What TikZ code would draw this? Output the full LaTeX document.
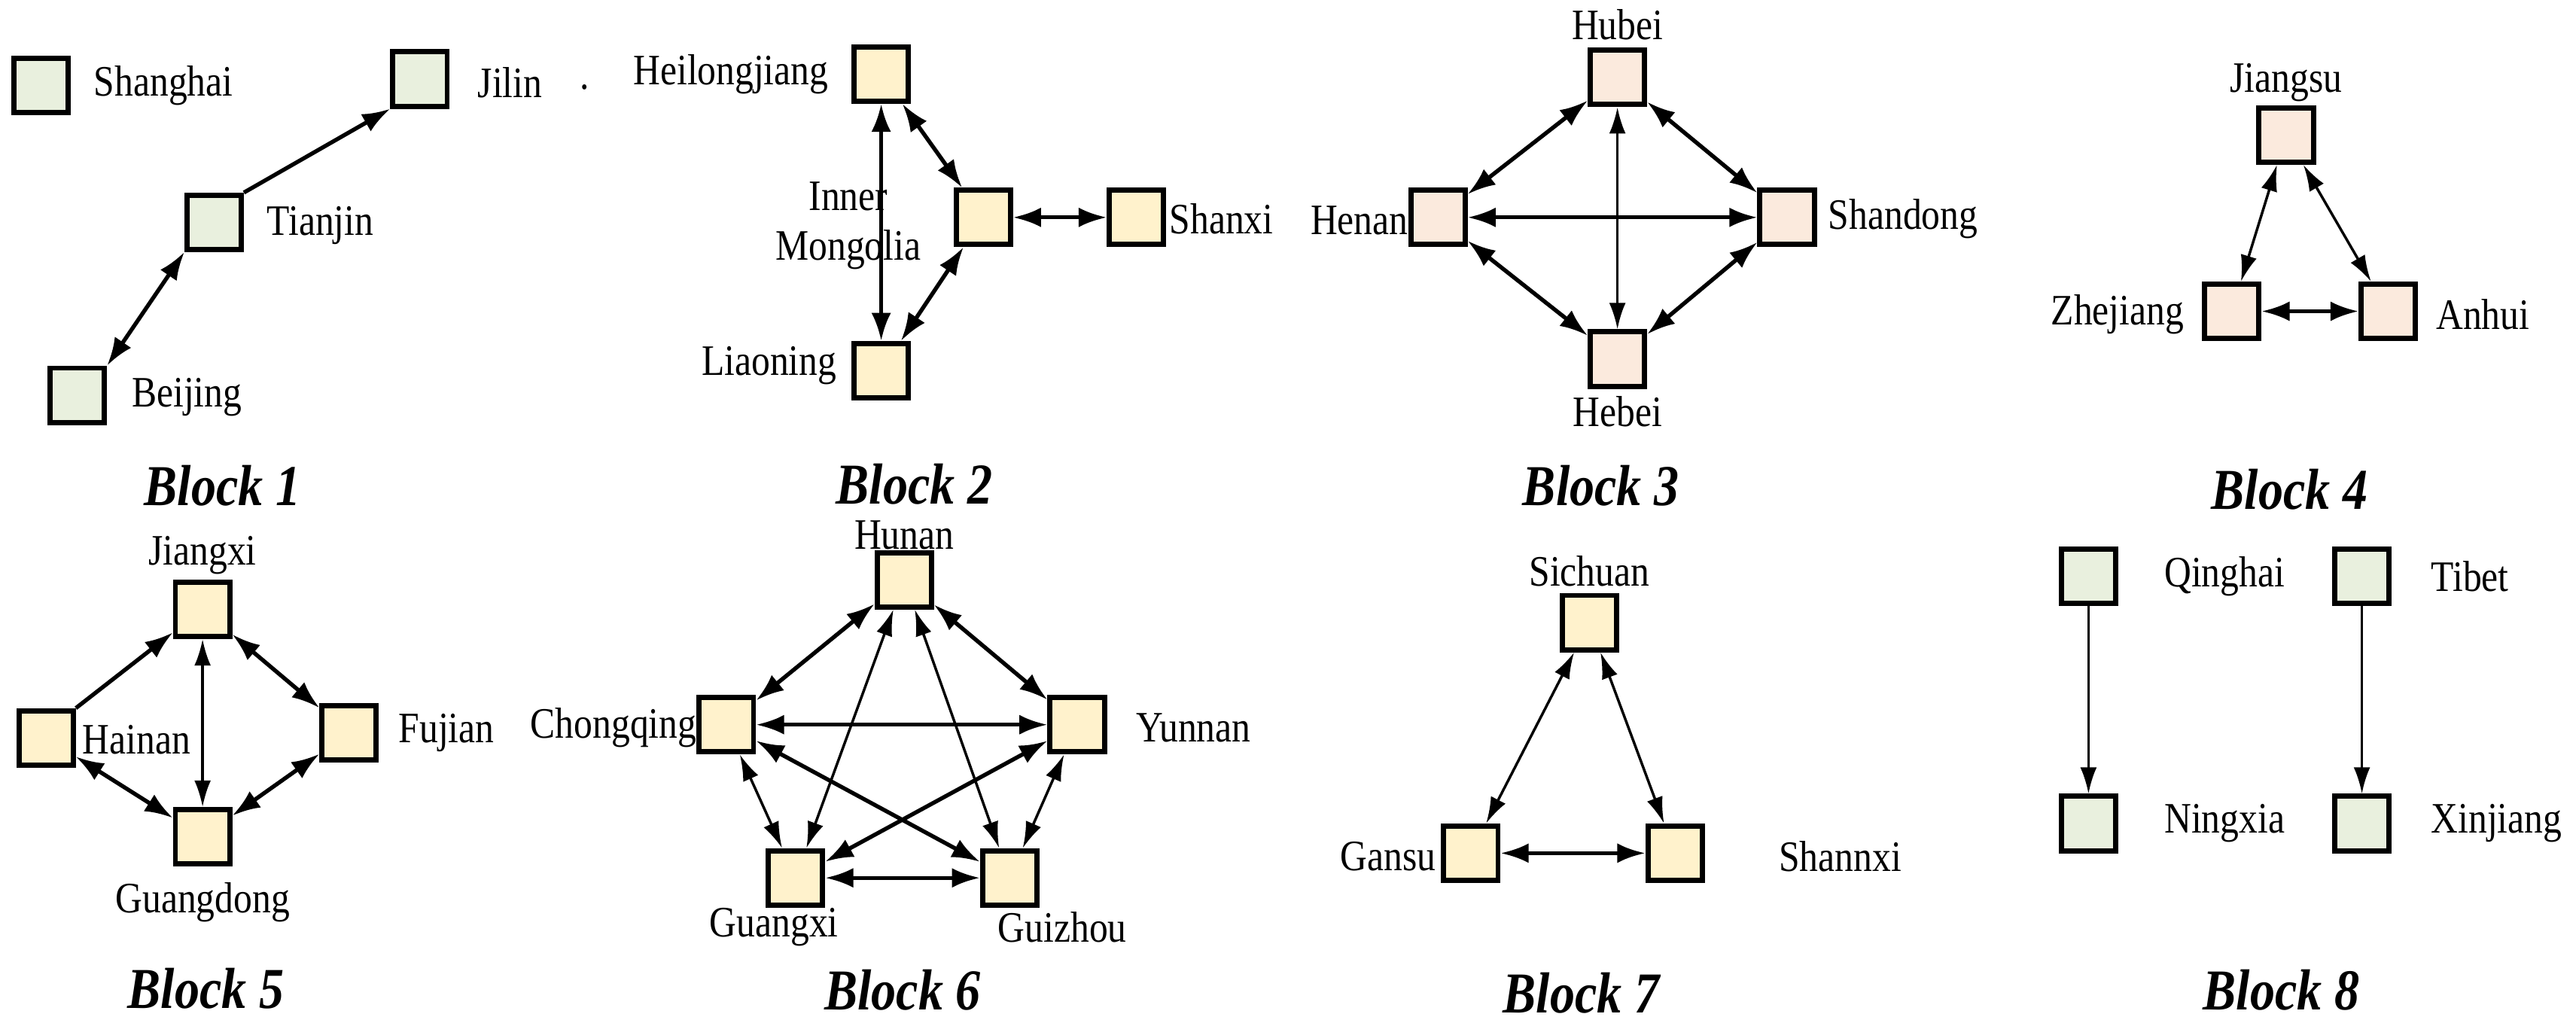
\documentclass[tikz,border=0pt]{standalone}
\usepackage{fontspec}
\setmainfont{Liberation Serif}[FakeStretch=0.86]
\usetikzlibrary{arrows.meta}
\definecolor{gfill}{HTML}{E9F0DE}
\definecolor{yfill}{HTML}{FFF2CC}
\definecolor{pfill}{HTML}{FBEADD}
\begin{document}
\begin{tikzpicture}[x=0.02cm,y=-0.02cm,
  box/.style={draw,line width=1.8pt,minimum width=0.66cm,minimum height=0.66cm,inner sep=0pt},
  g/.style={box,fill=gfill}, yy/.style={box,fill=yfill}, pp/.style={box,fill=pfill},
  lab/.style={font=\fontsize{15}{17}\selectfont,inner sep=1pt},
  ttl/.style={font=\fontsize{20}{23}\selectfont\bfseries\itshape},
  e/.style={line width=1.4pt,{Latex[length=0.34cm,width=0.24cm]}-{Latex[length=0.34cm,width=0.24cm]}},
  et/.style={line width=0.9pt,{Latex[length=0.32cm,width=0.2cm]}-{Latex[length=0.32cm,width=0.2cm]}},
  s/.style={line width=1.4pt,-{Latex[length=0.34cm,width=0.24cm]}},
  st/.style={line width=0.9pt,-{Latex[length=0.32cm,width=0.2cm]}}]
\useasboundingbox (0,0) rectangle (1564,621);
% Block 1
\node[g] (sh) at (25,52) {}; \node[g] (jl) at (255,48) {};
\node[g] (tj) at (130,135) {}; \node[g] (bj) at (47,240) {};
\node[lab,anchor=west] (lsh) at (55,52) {Shanghai};
\node[lab,anchor=west] (ljl) at (288,50) {Jilin};
\node[lab] (dot) at (355,53) {.};
\node[lab,anchor=west] (ltj) at (160,137) {Tianjin};
\node[lab,anchor=west] (lbj) at (78,241) {Beijing};
\draw[s] (tj.north east) -- (jl.south west);
\draw[e] (bj.north east) -- (tj.south west);
\node[ttl] (t1) at (135,295) {Block 1};
% Block 2
\node[yy] (hl) at (535,45) {}; \node[yy] (im) at (597,132) {};
\node[yy] (sx) at (690,132) {}; \node[yy] (ln) at (535,225) {};
\node[lab,anchor=east] (lhl) at (505,45) {Heilongjiang};
\node[lab,align=center] (lim) at (515,137) {Inner\\Mongolia};
\node[lab,anchor=east] (lln) at (510,222) {Liaoning};
\node[lab,anchor=west] (lsx) at (708,133) {Shanxi};
\draw[e] (hl) -- (ln);
\draw[e] (hl) -- (im);
\draw[e] (im) -- (ln);
\draw[e] (im) -- (sx);
\node[ttl] (t2) at (555,294) {Block 2};
% Block 3
\node[pp] (hb) at (982,47) {}; \node[pp] (hn) at (873,132) {};
\node[pp] (sd) at (1085,132) {}; \node[pp] (he) at (982,218) {};
\node[lab] (lhb) at (982,15) {Hubei};
\node[lab] (lhe) at (982,250) {Hebei};
\node[lab,anchor=east] (lhn) at (857,134) {Henan};
\node[lab,anchor=west] (lsd) at (1108,133) {Shandong};
\draw[e] (hb) -- (hn); \draw[e] (hb) -- (sd);
\draw[et] (hb) -- (he); \draw[e] (hn) -- (sd);
\draw[e] (hn) -- (he); \draw[e] (sd) -- (he);
\node[ttl] (t3) at (972,295) {Block 3};
% Block 4
\node[pp] (js) at (1388,82) {}; \node[pp] (zj) at (1355,189) {};
\node[pp] (ah) at (1450,189) {};
\node[lab] (ljs) at (1388,50) {Jiangsu};
\node[lab,anchor=east] (lzj) at (1328,191) {Zhejiang};
\node[lab,anchor=west] (lah) at (1477,191) {Anhui};
\draw[et] (js) -- (zj); \draw[et] (js) -- (ah); \draw[e] (zj) -- (ah);
\node[ttl] (t4) at (1390,297) {Block 4};
% Block 5
\node[yy] (jx) at (123,370) {}; \node[yy] (hnn) at (28,448) {};
\node[yy] (fj) at (212,445) {}; \node[yy] (gd) at (123,508) {};
\node[lab] (ljx) at (123,337) {Jiangxi};
\node[lab,anchor=west] (lhnn) at (48,449) {Hainan};
\node[lab,anchor=west] (lfj) at (240,445) {Fujian};
\node[lab] (lgd) at (123,548) {Guangdong};
\draw[s] (hnn.north east) -- (jx);
\draw[e] (jx) -- (fj); \draw[et] (jx) -- (gd);
\draw[e] (hnn) -- (gd); \draw[e] (fj) -- (gd);
\node[ttl] (t5) at (125,600) {Block 5};
% Block 6
\node[yy] (hu) at (549,352) {}; \node[yy] (cq) at (441,440) {};
\node[yy] (yn) at (654,440) {}; \node[yy] (gx) at (483,533) {};
\node[yy] (gz) at (613,533) {};
\node[lab] (lhu) at (549,325) {Hunan};
\node[lab,anchor=east] (lcq) at (425,442) {Chongqing};
\node[lab,anchor=west] (lyn) at (688,442) {Yunnan};
\node[lab] (lgx) at (470,563) {Guangxi};
\node[lab] (lgz) at (645,563) {Guizhou};
\draw[e] (hu) -- (cq); \draw[e] (hu) -- (yn);
\draw[et] (hu) -- (gx); \draw[et] (hu) -- (gz);
\draw[e] (cq) -- (yn); \draw[e] (cq) -- (gz);
\draw[e] (yn) -- (gx); \draw[et] (cq) -- (gx);
\draw[et] (yn) -- (gz); \draw[e] (gx) -- (gz);
\node[ttl] (t6) at (548,601) {Block 6};
% Block 7
\node[yy] (sc) at (965,378) {}; \node[yy] (gs) at (893,518) {};
\node[yy] (snx) at (1017,518) {};
\node[lab] (lsc) at (965,347) {Sichuan};
\node[lab,anchor=east] (lgs) at (874,520) {Gansu};
\node[lab,anchor=west] (lsnx) at (1078,520) {Shannxi};
\draw[et] (sc) -- (gs); \draw[et] (sc) -- (snx); \draw[e] (gs) -- (snx);
\node[ttl] (t7) at (960,603) {Block 7};
% Block 8
\node[g] (qh) at (1268,350) {}; \node[g] (tb) at (1434,350) {};
\node[g] (nx) at (1268,500) {}; \node[g] (xj) at (1434,500) {};
\node[lab,anchor=west] (lqh) at (1312,350) {Qinghai};
\node[lab,anchor=west] (ltb) at (1474,350) {Tibet};
\node[lab,anchor=west] (lnx) at (1312,500) {Ningxia};
\node[lab,anchor=west] (lxj) at (1474,500) {Xinjiang};
\draw[st] (qh) -- (nx); \draw[st] (tb) -- (xj);
\node[ttl] (t8) at (1385,601) {Block 8};
\end{tikzpicture}
\end{document}
